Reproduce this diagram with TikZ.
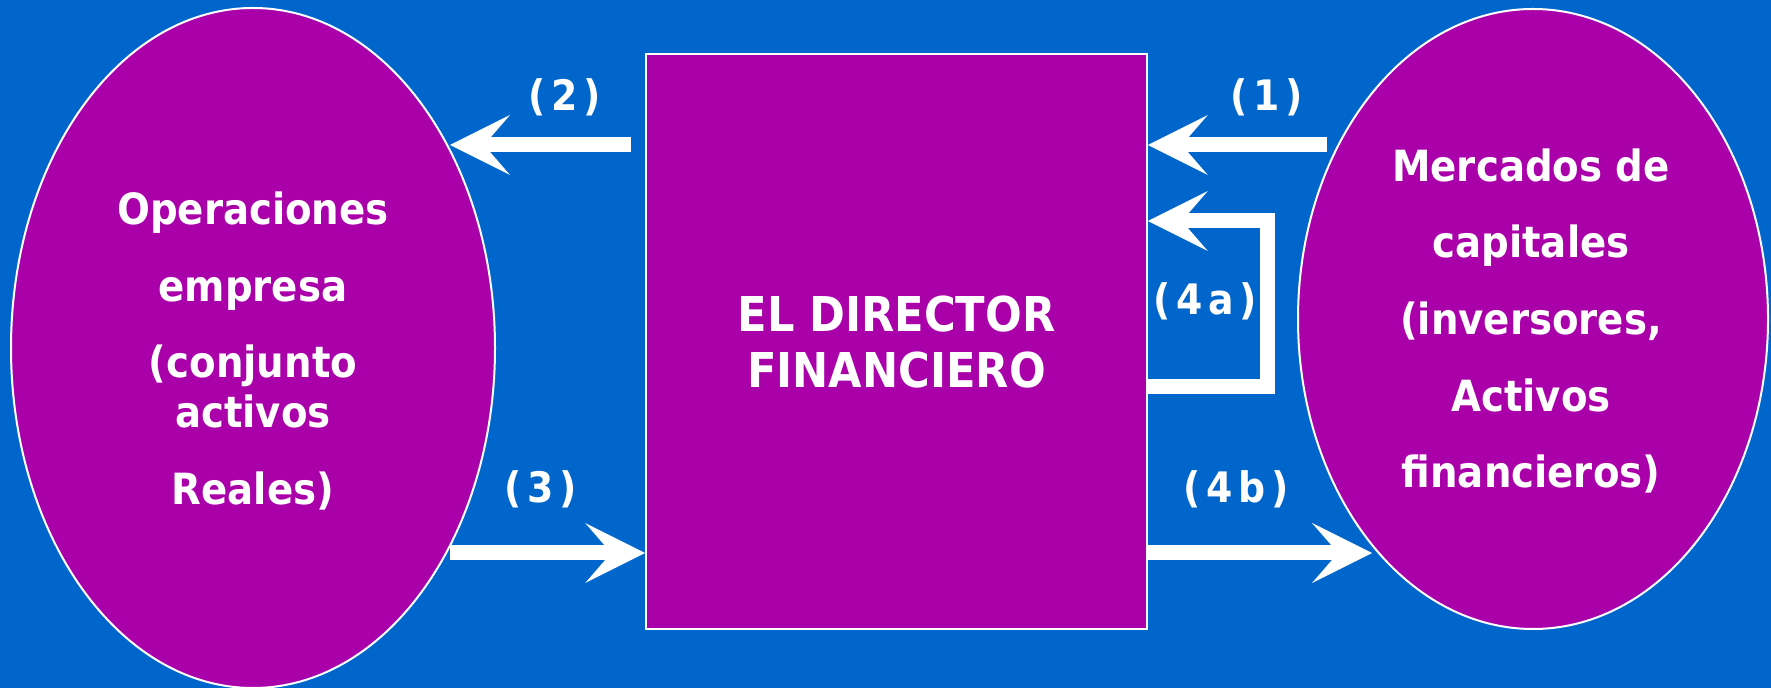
\documentclass[tikz,border=0pt]{standalone}
\usepackage{fontspec}
\newfontfamily\cf{DejaVu Sans Condensed}[BoldFont={DejaVu Sans Condensed Bold}]
\usetikzlibrary{shapes.geometric,arrows.meta}
\definecolor{bgblue}{HTML}{0066CC}
\definecolor{purp}{HTML}{AA00AA}
\begin{document}
\begin{tikzpicture}[x=0.5pt,y=-0.5pt,
  blob/.style={shape=ellipse,fill=purp,draw=white,line width=1pt,inner sep=0pt},
  boxnode/.style={shape=rectangle,fill=purp,draw=white,line width=0.8pt,inner sep=0pt},
  txt/.style={text=white,font=\cf\bfseries\fontsize{21.5pt}{26pt}\selectfont,inner sep=0pt,anchor=base},
  bigtxt/.style={text=white,font=\cf\bfseries\fontsize{24pt}{28pt}\selectfont,inner sep=0pt,anchor=base},
  lbl/.style={text=white,font=\cf\bfseries\fontsize{21pt}{26pt}\selectfont\addfontfeatures{LetterSpace=14},inner sep=0pt,anchor=base},
  flow/.style={draw=white,line width=7.5pt,line join=miter,
    -{Stealth[length=30pt,width=30pt,inset=13pt,line width=0pt]}}]
\useasboundingbox (0,0) rectangle (1771,688);
\fill[bgblue] (0,0) rectangle (1771,688);

% shapes
\node[blob,minimum width=242pt,minimum height=340pt] (ope) at (253,348) {};
\node[blob,minimum width=235pt,minimum height=310pt] (mer) at (1533,319) {};
\node[boxnode,minimum width=250.5pt,minimum height=287.5pt] (dir) at (896.5,341.5) {};

% texts
\node[txt] (ope1) at (253,225) {Operaciones};
\node[txt] (ope2) at (253,302) {empresa};
\node[txt] (ope3) at (253,378) {(conjunto};
\node[txt] (ope4) at (253,428) {activos};
\node[txt] (ope5) at (253,505) {Reales)};

\node[txt] (mer1) at (1531,182) {Mercados de};
\node[txt] (mer2) at (1531,258) {capitales};
\node[txt] (mer3) at (1531,335) {(inversores,};
\node[txt] (mer4) at (1531,412) {Activos};
\node[txt] (mer5) at (1531,488) {financieros)};

\node[bigtxt] (dir1) at (896.5,332) {EL DIRECTOR};
\node[bigtxt] (dir2) at (896.5,388) {FINANCIERO};

% labels
\node[lbl] (l1) at (1267,111) {(1)};
\node[lbl] (l2) at (565,111) {(2)};
\node[lbl] (l3) at (541,503) {(3)};
\node[lbl] (l4a) at (1205,315) {(4a)};
\node[lbl] (l4b) at (1236,503) {(4b)};

% connector end points
\coordinate (a2s) at (631,145);
\coordinate (a2e) at (450,145);
\coordinate (a1s) at (1327,145);
\coordinate (a3s) at (450,553);
\coordinate (a4be) at (1372,553);
\coordinate (c4a1) at (1267,387);
\coordinate (c4a2) at (1267,221);

% connectors
\draw[flow] (a2s) -- (a2e);
\draw[flow] (a1s) -- (dir.east |- a1s);
\draw[flow] (a3s) -- (dir.west |- a3s);
\draw[flow] (dir.east |- a4be) -- (a4be);
\draw[flow] (dir.east |- c4a1) -- (c4a1) -- (c4a2) -- (dir.east |- c4a2);
\end{tikzpicture}
\end{document}
